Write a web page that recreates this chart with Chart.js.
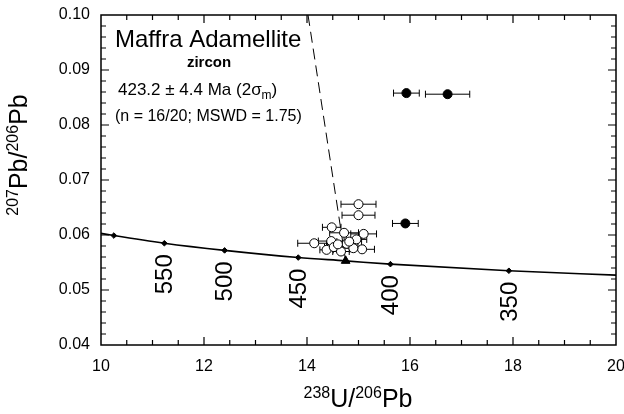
<!DOCTYPE html>
<html>
<head>
<meta charset="utf-8">
<script src="https://cdn.jsdelivr.net/npm/chart.js@4.4.0/dist/chart.umd.min.js"></script>
<style>
  body { margin: 0; background: #fff; }
  #wrap { width: 624px; height: 414px; }
</style>
</head>
<body>
<div id="wrap"><canvas id="my-chart" width="624" height="414"></canvas></div>
<script>
// concordia curve
const curveX = [10, 10.25, 11.23, 12.40, 13.83, 14.75, 15.62, 17.92, 20];
const curveY = [0.0603, 0.0599, 0.0585, 0.0572, 0.0559, 0.0553, 0.0547, 0.0535, 0.0527];

// age markers on the concordia (Ma)
const ageLabels = ['', '550', '500', '450', '400', '350'];
const ageX = [10.25, 11.23, 12.40, 13.83, 15.62, 17.92];
const ageY = [0.0599, 0.0585, 0.0572, 0.0559, 0.0547, 0.0535];

// analyses used in the age (open) and rejected (filled)
const openX = [15.00, 15.00, 14.48, 14.72, 15.10, 14.14, 14.47, 14.96, 14.77, 14.38, 14.52, 14.66, 15.07, 14.90, 14.60, 14.82];
const openY = [0.0656, 0.0636, 0.0614, 0.0604, 0.0602, 0.0585, 0.0589, 0.0592, 0.0584, 0.0573, 0.0578, 0.0570, 0.0574, 0.0576, 0.0583, 0.0588];
const openErr = [0.34, 0.32, 0.18, 0.28, 0.25, 0.32, 0.25, 0.20, 0.22, 0.13, 0.18, 0.16, 0.24, 0.20, 0.22, 0.24];

const filledX = [15.93, 16.73, 15.91];
const filledY = [0.0858, 0.0856, 0.0621];
const filledErr = [0.25, 0.43, 0.25];

// discordia (dashed) and its lower intercept
const discX = [14.02, 14.75];
const discY = [0.10, 0.0553];
const interceptX = [14.75];
const interceptY = [0.0553];

const FONT = '"Liberation Sans", Arial, Helvetica, sans-serif';

function pts(xs, ys) {
  return xs.map((x, i) => ({ x: x, y: ys[i] }));
}

function drawRich(ctx, parts, x, y) {
  // parts: [text, size, dy]
  let cx = x;
  parts.forEach(p => {
    ctx.font = p[1] + 'px ' + FONT;
    ctx.fillText(p[0], cx, y + p[2]);
    cx += ctx.measureText(p[0]).width;
  });
  return cx - x;
}

function richWidth(ctx, parts) {
  let w = 0;
  parts.forEach(p => {
    ctx.font = p[1] + 'px ' + FONT;
    w += ctx.measureText(p[0]).width;
  });
  return w;
}

const decor = {
  id: 'decor',
  beforeDatasetsDraw(chart) {
    const ctx = chart.ctx;
    const xs = chart.scales.x, ys = chart.scales.y;
    ctx.save();
    ctx.strokeStyle = '#000';
    ctx.lineWidth = 1;
    const bars = (X, Y, E) => X.forEach((x, i) => {
      const a = xs.getPixelForValue(x - E[i]);
      const b = xs.getPixelForValue(x + E[i]);
      const py = ys.getPixelForValue(Y[i]);
      ctx.beginPath();
      ctx.moveTo(a, py); ctx.lineTo(b, py);
      ctx.moveTo(a, py - 3.5); ctx.lineTo(a, py + 3.5);
      ctx.moveTo(b, py - 3.5); ctx.lineTo(b, py + 3.5);
      ctx.stroke();
    });
    bars(openX, openY, openErr);
    bars(filledX, filledY, filledErr);
    ctx.restore();
  },
  afterDraw(chart) {
    const ctx = chart.ctx;
    const a = chart.chartArea;
    const xs = chart.scales.x, ys = chart.scales.y;
    ctx.save();
    ctx.strokeStyle = '#000';
    ctx.fillStyle = '#000';

    // frame
    ctx.lineWidth = 1.5;
    ctx.strokeRect(a.left, a.top, a.right - a.left, a.bottom - a.top);

    // inside ticks on all four sides
    ctx.lineWidth = 1.2;
    ctx.beginPath();
    for (let v = 10.5; v < 20; v += 0.5) {
      const px = xs.getPixelForValue(v);
      const len = Math.abs(v % 2) < 1e-6 ? 8 : 5;
      ctx.moveTo(px, a.bottom); ctx.lineTo(px, a.bottom - len);
      ctx.moveTo(px, a.top); ctx.lineTo(px, a.top + len);
    }
    for (let k = 1; k < 30; k++) {
      const v = 0.04 + k * 0.002;
      const py = ys.getPixelForValue(v);
      const len = k % 5 === 0 ? 8 : 5;
      ctx.moveTo(a.left, py); ctx.lineTo(a.left + len, py);
      ctx.moveTo(a.right, py); ctx.lineTo(a.right - len, py);
    }
    ctx.stroke();

    // age labels, rotated, below each marker
    ctx.font = '24px ' + FONT;
    ctx.textAlign = 'center';
    ctx.textBaseline = 'middle';
    ageLabels.forEach((t, i) => {
      if (!t) return;
      const px = xs.getPixelForValue(ageX[i]);
      const py = ys.getPixelForValue(ageY[i]);
      ctx.save();
      ctx.translate(px + 1, py + 31);
      ctx.rotate(-Math.PI / 2);
      ctx.fillText(t, 0, 0);
      ctx.restore();
    });

    // annotation block
    ctx.textAlign = 'left';
    ctx.textBaseline = 'alphabetic';
    ctx.font = '24px ' + FONT;
    ctx.fillText('Maffra Adamellite', 115, 47);
    ctx.font = 'bold 15px ' + FONT;
    ctx.textAlign = 'center';
    ctx.fillText('zircon', 209, 67);
    ctx.textAlign = 'left';
    drawRich(ctx, [['423.2 \u00b1 4.4 Ma (2\u03c3', 17, 0], ['m', 12, 4], [')', 17, 0]], 118, 95);
    ctx.font = '16px ' + FONT;
    ctx.fillText('(n = 16/20; MSWD = 1.75)', 115, 121);

    // axis titles with superscripts
    const xt = [['238', 16, -9], ['U/', 25, 0], ['206', 16, -9], ['Pb', 25, 0]];
    const xw = richWidth(ctx, xt);
    drawRich(ctx, xt, 358 - xw / 2, 407);

    const yt = [['207', 16, -9], ['Pb/', 25, 0], ['206', 16, -9], ['Pb', 25, 0]];
    const yw = richWidth(ctx, yt);
    ctx.save();
    ctx.translate(27, 155);
    ctx.rotate(-Math.PI / 2);
    drawRich(ctx, yt, -yw / 2, 0);
    ctx.restore();

    ctx.restore();
  }
};

const ctx = document.getElementById('my-chart').getContext('2d');
const myChart = new Chart(ctx, {
  type: 'scatter',
  data: {
    datasets: [
      {
        label: 'included',
        data: pts(openX, openY),
        backgroundColor: '#fff',
        borderColor: '#000',
        borderWidth: 1,
        pointRadius: 4.5
      },
      {
        label: 'excluded',
        data: pts(filledX, filledY),
        backgroundColor: '#000',
        borderColor: '#000',
        pointRadius: 4.5
      },
      {
        label: 'intercept',
        data: pts(interceptX, interceptY),
        pointStyle: 'triangle',
        backgroundColor: '#000',
        borderColor: '#000',
        pointRadius: 5
      },
      {
        label: 'ages',
        data: pts(ageX, ageY),
        pointStyle: 'rectRot',
        backgroundColor: '#000',
        borderColor: '#000',
        pointRadius: 2.8
      },
      {
        type: 'line',
        label: 'concordia',
        data: pts(curveX, curveY),
        borderColor: '#000',
        borderWidth: 1.6,
        pointRadius: 0,
        cubicInterpolationMode: 'monotone',
        fill: false
      },
      {
        type: 'line',
        label: 'discordia',
        data: pts(discX, discY),
        borderColor: '#000',
        borderWidth: 1,
        borderDash: [11, 6],
        pointRadius: 0,
        fill: false
      }
    ]
  },
  options: {
    responsive: false,
    animation: false,
    layout: { padding: { left: 0, right: 8, top: 15, bottom: 0 } },
    plugins: {
      legend: { display: false },
      tooltip: { enabled: false }
    },
    scales: {
      x: {
        type: 'linear',
        min: 10,
        max: 20,
        afterFit: s => { s.height = 69; s.paddingLeft = 0; s.paddingRight = 0; },
        grid: { display: false, drawTicks: false },
        border: { display: false },
        ticks: {
          stepSize: 2,
          padding: 12,
          color: '#000',
          font: { family: FONT, size: 16 }
        }
      },
      y: {
        type: 'linear',
        min: 0.04,
        max: 0.10,
        afterFit: s => { s.width = 101; s.paddingTop = 0; s.paddingBottom = 0; },
        grid: { display: false, drawTicks: false },
        border: { display: false },
        ticks: {
          stepSize: 0.01,
          padding: 11,
          color: '#000',
          font: { family: FONT, size: 16 },
          callback: v => v.toFixed(2)
        }
      }
    }
  },
  plugins: [decor]
});
</script>
</body>
</html>
